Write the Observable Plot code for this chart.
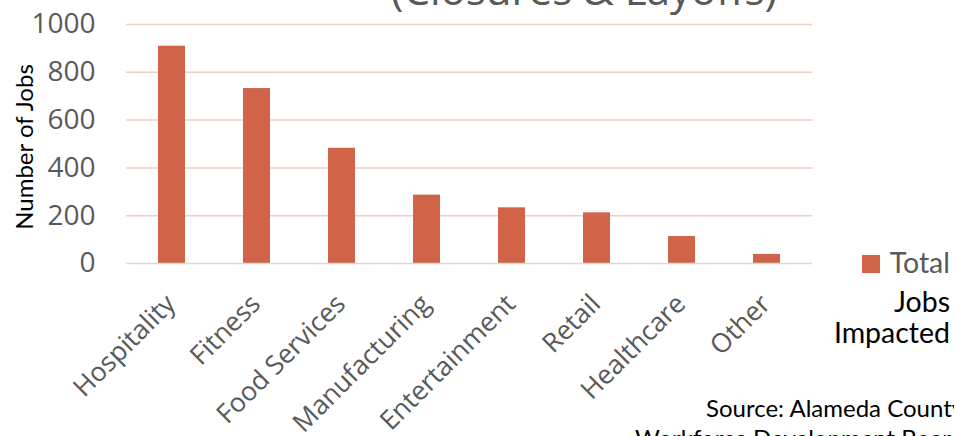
<!DOCTYPE html>
<html><head><meta charset="utf-8">
<script src="https://cdn.jsdelivr.net/npm/d3@7"></script>
<script src="https://cdn.jsdelivr.net/npm/@observablehq/plot@0.6"></script>
<style>
body{margin:0;background:#fff;}
#wrap{position:relative;width:954px;height:436px;overflow:hidden;background:#fff;}
#wrap svg{position:absolute;left:0;top:0;}
.t{position:absolute;white-space:nowrap;}
#title{left:0;width:1168px;text-align:center;top:-32px;font:42px/42px "Open Sans";color:#595959;}
.leg{font:28.5px/28px Lato;right:4px;}
#sw{position:absolute;left:862px;top:255px;width:18px;height:18px;background:#d16349;}
.src{font:24px/24px Lato;color:#000;}
</style></head><body><div id="wrap"></div>
<script>
const categories = ["Hospitality","Fitness","Food Services","Manufacturing","Entertainment","Retail","Healthcare","Other"];
const values = [909,732,482,286,233,212,113,38];
const yTicks = [0,200,400,600,800,1000];
const gridTicks = [200,400,600,800,1000];
const titleText = "(Closures & Layoffs)";
const yLabel = "Number of Jobs";
const legendLines = ["Total","Jobs","Impacted"];
const sourceLines = ["Source: Alameda County","Workforce Development Board"];

const data = categories.map((c,i)=>({category:c, jobs:values[i]}));
const barColor = "#d16349";

const plot = Plot.plot({
  width:954, height:436,
  marginLeft:126, marginRight:142, marginTop:24, marginBottom:173,
  style:{fontFamily:"'Open Sans'", background:"transparent", overflow:"visible"},
  x:{domain:categories, paddingInner:0.685, paddingOuter:0.3425, label:null},
  y:{domain:[0,1000], label:null},
  marks:[
    Plot.ruleY(gridTicks,{stroke:"#f3cdc4", strokeWidth:1.5}),
    Plot.barY(data,{x:"category", y:"jobs", fill:barColor}),
    Plot.ruleY([0],{stroke:"#d9d9d9", strokeWidth:1.5}),
    Plot.axisY(yTicks,{tickSize:0, tickPadding:31, fontSize:28, fill:"#595959", label:null, tickFormat:d=>String(d), fontFamily:"Open Sans"}),
    Plot.axisX({tickSize:0, tickRotate:-45, fontSize:26.5, fill:"#595959", label:null, tickPadding:36, dx:-1, fontFamily:"Open Sans"}),
    Plot.text([yLabel],{text:d=>d, frameAnchor:"left", textAnchor:"middle", rotate:-90, dx:-101, dy:3, fontSize:24, fontFamily:"Lato", fill:"#000"})
  ]
});
const wrap = document.getElementById("wrap");
wrap.appendChild(plot);

function addDiv(cls, id, text, styles){
  const d = document.createElement("div");
  d.className = cls; if(id) d.id = id; d.textContent = text;
  Object.assign(d.style, styles||{});
  wrap.appendChild(d);
}
addDiv("t","title",titleText);
const sw = document.createElement("div"); sw.id="sw"; wrap.appendChild(sw);
addDiv("t leg",null,legendLines[0],{top:"248px",color:"#595959"});
addDiv("t leg",null,legendLines[1],{top:"287px",color:"#000"});
addDiv("t leg",null,legendLines[2],{top:"318px",color:"#000"});
addDiv("t src",null,sourceLines[0],{top:"396px",left:"706px"});
addDiv("t src",null,sourceLines[1],{top:"426px",left:"635px"});
</script></body></html>
